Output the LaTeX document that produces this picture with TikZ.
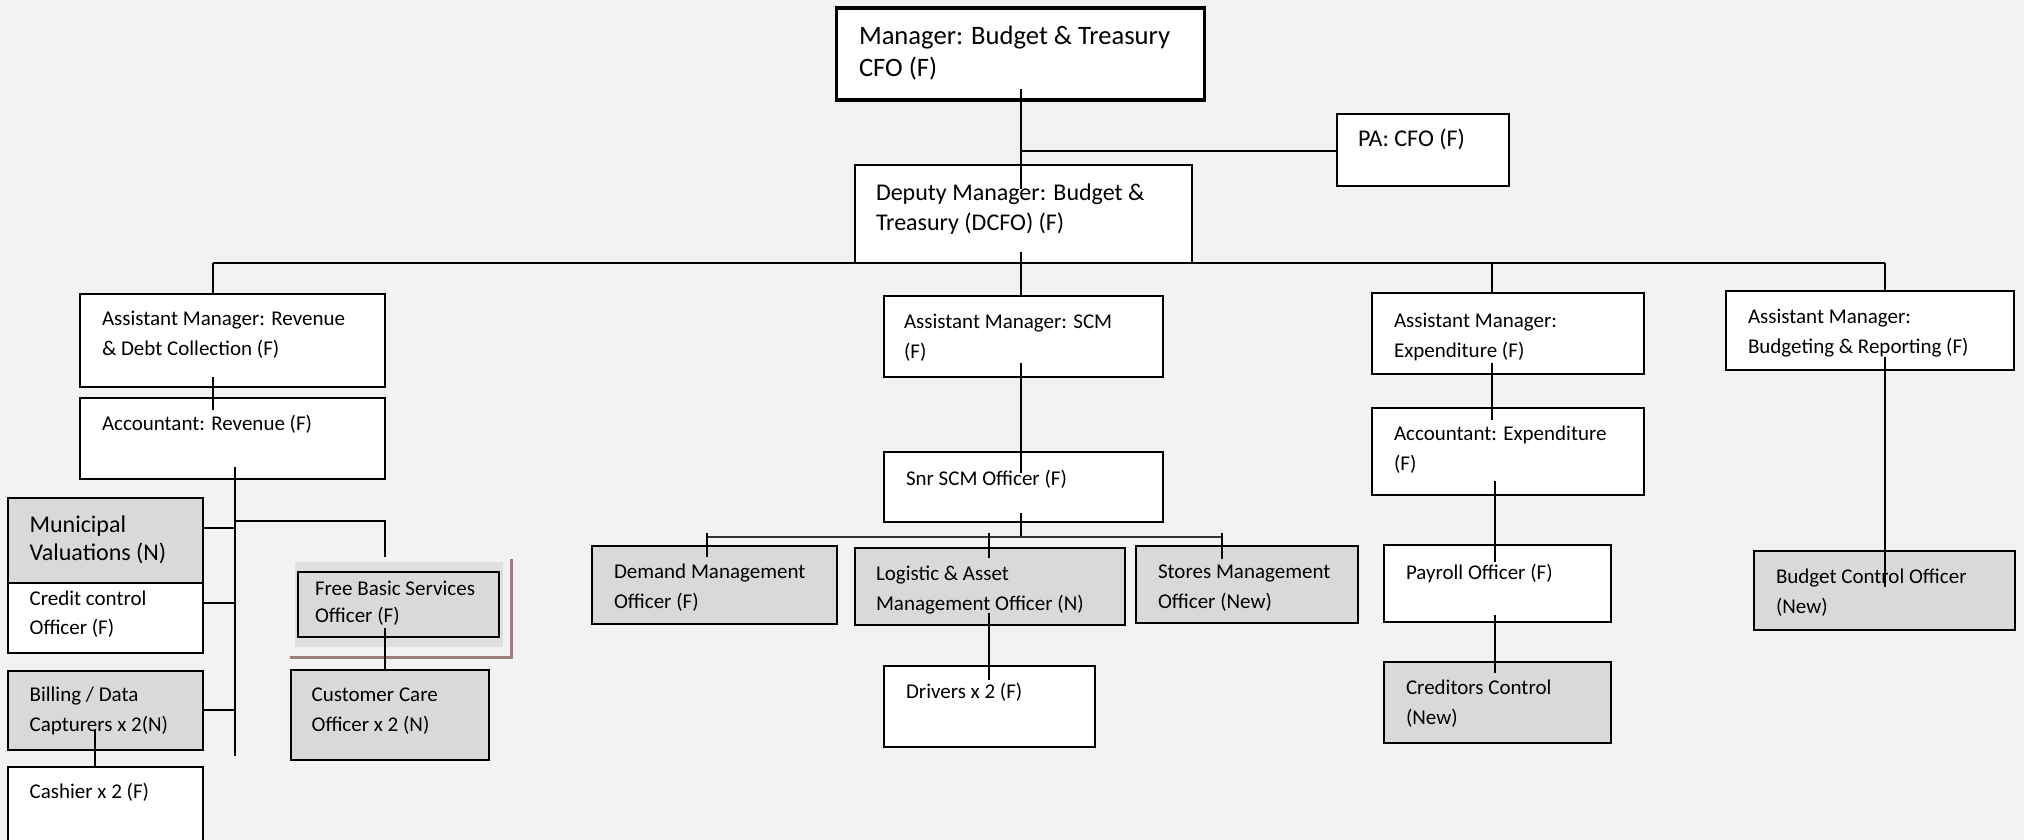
\documentclass[tikz,border=0pt]{standalone}
\usepackage{fontspec}
\setmainfont{Carlito}
\definecolor{bg}{HTML}{F2F2F2}
\definecolor{boxgray}{HTML}{D9D9D9}
\definecolor{shade}{HTML}{DFDFDF}
\definecolor{rose}{HTML}{A07E7E}
\definecolor{busgray}{HTML}{333333}
\tikzset{
 obox/.style={draw=black, line width=1pt, fill=white, inner sep=0pt, outer sep=0pt, anchor=north west},
 grey/.style={obox, fill=boxgray},
 topbox/.style={obox, line width=1.8pt},
 backbox/.style={draw=none, fill=shade, inner sep=0pt, outer sep=0pt, anchor=north west},
 link/.style={draw=black, line width=1pt},
 glink/.style={draw=busgray, line width=0.9pt},
 txt/.style={anchor=base west, inner sep=0pt, outer sep=0pt, font=\fontsize{10.5}{15}\selectfont},
}
\newcommand\orgbox[6]{\node[#2, minimum width={(#5-#3)*0.5pt}, minimum height={(#6-#4)*0.5pt}] (#1) at (#3,#4) {};}
\newcommand\orgtext[5]{\node[txt,#4] (#1) at (#2,#3) {\begin{tabular}[t]{@{}l@{}}#5\end{tabular}};}
\begin{document}
\begin{tikzpicture}[x=0.5pt,y=-0.5pt]
\fill[bg] (0,0) rectangle (2024,840);
\useasboundingbox (0,0) rectangle (2024,840);
% boxes
\orgbox{cfo}{topbox}{836.5}{8}{1204.5}{100}
\orgbox{pa}{obox}{1336.5}{114}{1509}{186}
\orgbox{dep}{obox}{855}{165}{1192}{263}
\orgbox{amrev}{obox}{80}{294}{385}{387}
\orgbox{accrev}{obox}{80}{398}{385}{479}
\orgbox{amscm}{obox}{884}{296}{1163}{377}
\orgbox{snrscm}{obox}{884}{452}{1163}{522}
\orgbox{amexp}{obox}{1372}{293}{1644}{374}
\orgbox{accexp}{obox}{1372}{408}{1644}{495}
\orgbox{ambudg}{obox}{1726}{291}{2014}{370}
\orgbox{muni}{grey}{8}{498}{203}{583}
\orgbox{credit}{obox}{8}{583}{203}{653}
\orgbox{billing}{grey}{8}{671}{203}{750}
\orgbox{cashier}{obox}{8}{767}{203}{850}
\orgbox{fbsback}{backbox}{295}{562}{503}{647}
\orgbox{fbs}{grey}{298}{572}{499}{637}
\draw[rose, line width=1.5pt] (290,657) -- (511,657) -- (511,559);
\orgbox{cust}{grey}{291}{670}{489}{760}
\orgbox{demand}{grey}{592}{546}{837}{624}
\orgbox{logistic}{grey}{855}{548}{1125}{625}
\orgbox{stores}{grey}{1136}{546}{1358}{623}
\orgbox{drivers}{obox}{884}{666}{1095}{747}
\orgbox{payroll}{obox}{1384}{545}{1611}{622}
\orgbox{creditors}{grey}{1384}{662}{1611}{743}
\orgbox{budctrl}{grey}{1754}{551}{2015}{630}
% texts
\orgtext{cfo-t}{859}{45}{font=\fontsize{13.3}{16}\selectfont}{Manager: Budget \& Treasury\\CFO (F)}
\orgtext{pa-t}{1358}{147}{font=\fontsize{12}{15}\selectfont}{PA: CFO (F)}
\orgtext{dep-t}{876}{200}{font=\fontsize{12}{15}\selectfont}{Deputy Manager: Budget \&\\Treasury (DCFO) (F)}
\orgtext{amrev-t}{102}{325}{}{Assistant Manager: Revenue\\\& Debt Collection (F)}
\orgtext{accrev-t}{102}{430}{}{Accountant: Revenue (F)}
\orgtext{amscm-t}{904}{328}{}{Assistant Manager: SCM\\(F)}
\orgtext{snrscm-t}{906}{485}{}{Snr SCM Officer (F)}
\orgtext{amexp-t}{1394}{327}{}{Assistant Manager:\\Expenditure (F)}
\orgtext{accexp-t}{1394}{440}{}{Accountant: Expenditure\\(F)}
\orgtext{ambudg-t}{1748}{323}{}{Assistant Manager:\\Budgeting \& Reporting (F)}
\orgtext{muni-t}{29.6}{532}{font=\fontsize{12}{14}\selectfont}{Municipal\\Valuations (N)}
\orgtext{credit-t}{29.6}{605}{font=\fontsize{10.5}{14.5}\selectfont}{Credit control\\Officer (F)}
\orgtext{billing-t}{29.6}{701}{}{Billing / Data\\Capturers x 2(N)}
\orgtext{cashier-t}{29.6}{798}{}{Cashier x 2 (F)}
\orgtext{fbs-t}{315}{595}{font=\fontsize{10.5}{13.5}\selectfont}{Free Basic Services\\Officer (F)}
\orgtext{cust-t}{311.6}{701}{}{Customer Care\\Officer x 2 (N)}
\orgtext{demand-t}{614}{578}{}{Demand Management\\Officer (F)}
\orgtext{logistic-t}{876}{580}{}{Logistic \& Asset\\Management Officer (N)}
\orgtext{stores-t}{1158}{578}{}{Stores Management\\Officer (New)}
\orgtext{drivers-t}{906}{698}{}{Drivers x 2 (F)}
\orgtext{payroll-t}{1406}{579}{}{Payroll Officer (F)}
\orgtext{creditors-t}{1406}{694}{}{Creditors Control\\(New)}
\orgtext{budctrl-t}{1776}{583}{}{Budget Control Officer\\(New)}
% connector points
\coordinate (cfoL) at (1021,89);
\coordinate (depU) at (1021,189);
\coordinate (paJ) at (1021,151);
\coordinate (depL) at (1021,252);
\coordinate (busL) at (213,263);
\coordinate (busE) at (1492,263);
\coordinate (busR) at (1885,263);
\coordinate (amrevL) at (213,377);
\coordinate (accrevU) at (213,410);
\coordinate (revV1) at (235,467);
\coordinate (revV2) at (235,756);
\coordinate (hM) at (235,528);
\coordinate (hC) at (235,603);
\coordinate (hB) at (235,710);
\coordinate (fbsJ) at (235,521);
\coordinate (fbsD) at (385,557);
\coordinate (fbsL) at (385,628);
\coordinate (billL) at (95,730);
\coordinate (scmA) at (1021,363);
\coordinate (scmB) at (1021,473);
\coordinate (snrL) at (1021,513);
\coordinate (scmbusM) at (1021,537);
\coordinate (scmbusL) at (707,537);
\coordinate (scmbusR) at (1222,537);
\coordinate (demT) at (707,533);
\coordinate (logT) at (989,533);
\coordinate (stoT) at (1222,533);
\coordinate (demU) at (707,557);
\coordinate (logU) at (989,558);
\coordinate (stoU) at (1222,559);
\coordinate (logL) at (989,613);
\coordinate (drvU) at (989,680);
\coordinate (amexpL) at (1492,363);
\coordinate (accexpU) at (1492,420);
\coordinate (accexpL) at (1494.7,481);
\coordinate (payU) at (1494.7,562);
\coordinate (payL) at (1495,615);
\coordinate (credU) at (1495,673);
\coordinate (ambudgL) at (1885,357);
\coordinate (bcU) at (1885,587);
% connectors
\draw[link] (cfoL) -- (depU);
\draw[link] (paJ) -- (pa.west |- paJ);
\draw[link] (depL) -- (amscm.north -| depL);
\draw[link] (busL) -- (busR);
\draw[link] (busL) -- (amrev.north -| busL);
\draw[link] (busE) -- (amexp.north -| busE);
\draw[link] (busR) -- (ambudg.north -| busR);
\draw[link] (amrevL) -- (accrevU);
\draw[link] (revV1) -- (revV2);
\draw[link] (hM) -- (muni.east |- hM);
\draw[link] (hC) -- (credit.east |- hC);
\draw[link] (hB) -- (billing.east |- hB);
\draw[link] (fbsJ) -| (fbsD);
\draw[link] (fbsL) -- (cust.north -| fbsL);
\draw[link] (billL) -- (cashier.north -| billL);
\draw[link] (scmA) -- (scmB);
\draw[link] (snrL) -- (scmbusM);
\draw[glink] (scmbusL) -- (scmbusR);
\draw[link] (demT) -- (demU);
\draw[link] (logT) -- (logU);
\draw[link] (stoT) -- (stoU);
\draw[link] (logL) -- (drvU);
\draw[link] (amexpL) -- (accexpU);
\draw[link] (accexpL) -- (payU);
\draw[link] (payL) -- (credU);
\draw[link] (ambudgL) -- (bcU);
\end{tikzpicture}
\end{document}
